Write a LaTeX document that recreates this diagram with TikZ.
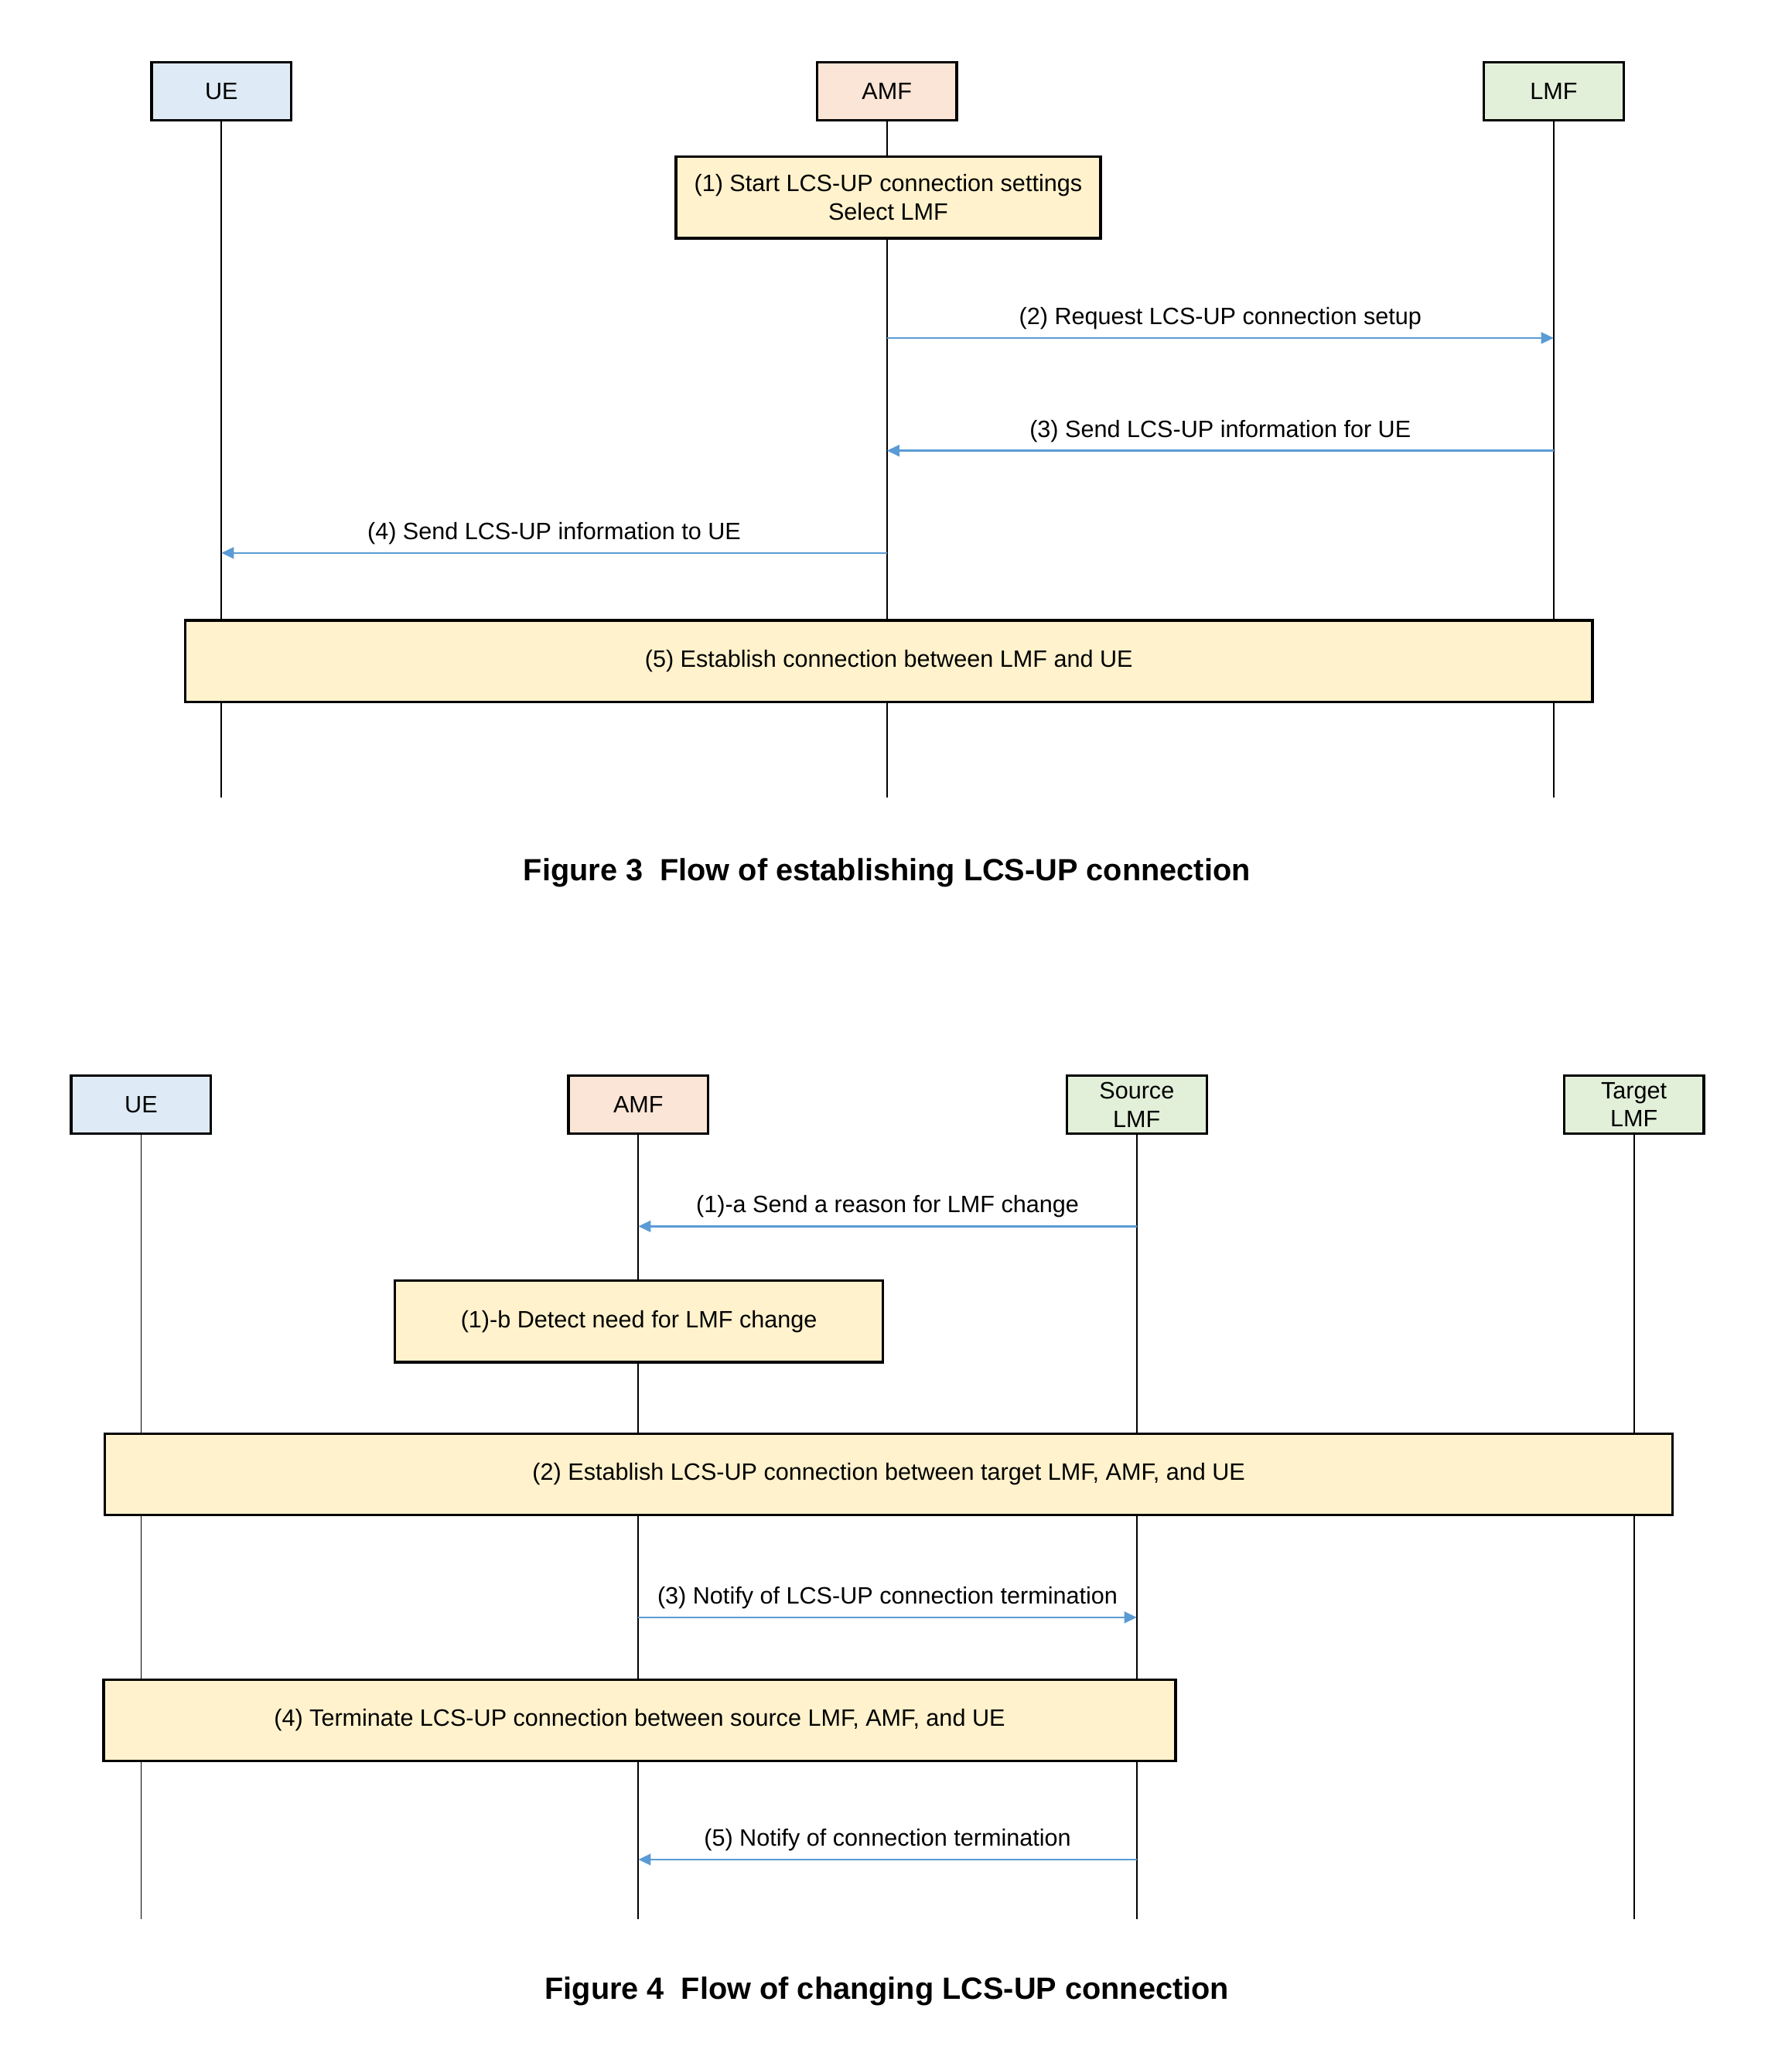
\documentclass[tikz,border=0pt]{standalone}
\usepackage{fontspec}
\setmainfont{Liberation Sans}
\usetikzlibrary{arrows.meta,positioning}
\definecolor{uefill}{HTML}{DEEBF7}
\definecolor{amffill}{HTML}{FBE5D6}
\definecolor{lmffill}{HTML}{E2F0D9}
\definecolor{stepfill}{HTML}{FFF2CC}
\definecolor{msgblue}{HTML}{5B9BD5}

\begin{document}
\begin{tikzpicture}[x=0.02cm, y=-0.02cm,
		font=\fontsize{10.4}{12.5}\selectfont,
		entity/.style={draw, line width=1.1pt, minimum width=2.16cm, minimum height=0.9cm, inner sep=1pt, align=center},
		stepbox/.style={draw, line width=1.1pt, fill=stepfill, minimum height=1.26cm, align=center},
		lifeline/.style={line width=0.6pt},
		msg/.style={draw=msgblue, line width=0.9pt, -{Triangle[length=5.5pt,width=5pt]}},
		caption/.style={font=\fontsize{13.5}{16}\selectfont\bfseries},
	]
		\useasboundingbox (0,0) rectangle (1384,1580);

		% Figure 3
		\node (ue) [entity, fill=uefill] at (171,70.5) {UE};
		\node (amf) [entity, fill=amffill] at (685,70.5) {AMF};
		\node (lmf) [entity, fill=lmffill] at (1200,70.5) {LMF};
		\coordinate (end3) at (0,616);
		\foreach \n in {ue,amf,lmf}
			\draw[lifeline] (\n) -- (\n |- end3);

		\node (s1) [stepbox, minimum width=6.56cm] at (686,152.5) {(1) Start LCS-UP connection settings\\Select LMF};

		\coordinate (m2) at (0,261);
		\coordinate (m3) at (0,348);
		\coordinate (m4) at (0,427);
		\draw[msg] (amf |- m2) -- (lmf |- m2) node[midway, above=0pt] {(2) Request LCS-UP connection setup};
		\draw[msg] (lmf |- m3) -- (amf |- m3) node[midway, above=0pt] {(3) Send LCS-UP information for UE};
		\draw[msg] (amf |- m4) -- (ue |- m4) node[midway, above=0pt] {(4) Send LCS-UP information to UE};

		\node (s5) [stepbox, minimum width=21.74cm] at (686.5,510.5) {(5) Establish connection between LMF and UE};

		\node (cap3) [caption] at (685,674) {Figure 3\ \ Flow of establishing LCS-UP connection};

		% Figure 4
		\node (ue4) [entity, fill=uefill] at (109,853) {UE};
		\node (amf4) [entity, fill=amffill] at (493,853) {AMF};
		\node (src) [entity, fill=lmffill] at (878,853) {Source\\LMF};
		\node (tgt) [entity, fill=lmffill] at (1262,853) {Target\\LMF};
		\coordinate (end4) at (0,1482);
		\foreach \n in {ue4,amf4,src,tgt}
			\draw[lifeline] (\n) -- (\n |- end4);

		\coordinate (n1) at (0,947);
		\draw[msg] (src |- n1) -- (amf4 |- n1) node[midway, above=0pt] {(1)-a Send a reason for LMF change};

		\node (t1) [stepbox, minimum width=7.54cm] at (493.5,1020.5) {(1)-b Detect need for LMF change};
		\node (t2) [stepbox, minimum width=24.22cm] at (686.5,1138.5) {(2) Establish LCS-UP connection between target LMF, AMF, and UE};

		\coordinate (n3) at (0,1249);
		\draw[msg] (amf4 |- n3) -- (src |- n3) node[midway, above=0pt] {(3) Notify of LCS-UP connection termination};

		\node (t4) [stepbox, minimum width=16.56cm] at (494,1328.5) {(4) Terminate LCS-UP connection between source LMF, AMF, and UE};

		\coordinate (n5) at (0,1436);
		\draw[msg] (src |- n5) -- (amf4 |- n5) node[midway, above=0pt] {(5) Notify of connection termination};

		\node (cap4) [caption] at (685,1538) {Figure 4\ \ Flow of changing LCS-UP connection};
	\end{tikzpicture}
\end{document}
